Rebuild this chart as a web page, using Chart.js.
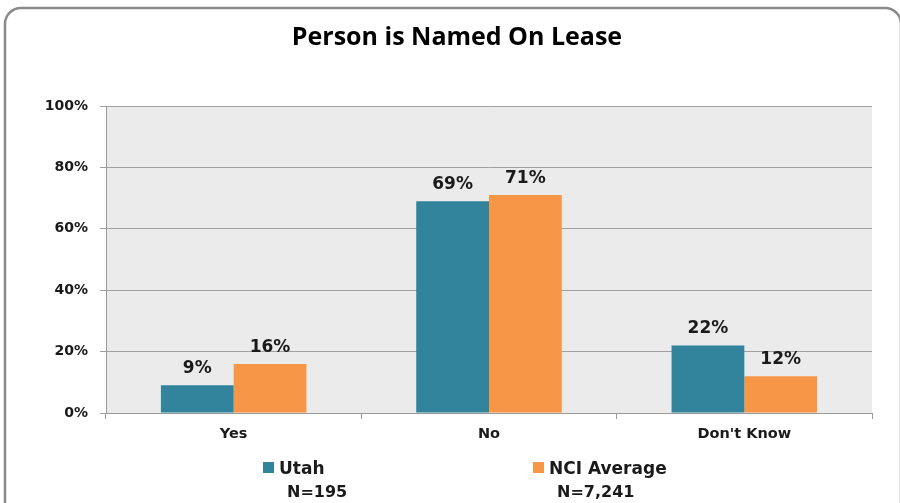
<!DOCTYPE html>
<html><head><meta charset="utf-8">
<script src="https://cdn.jsdelivr.net/npm/chart.js@4/dist/chart.umd.min.js"></script>
<style>html,body{margin:0;padding:0;background:#fff;}#wrap{position:relative;width:900px;height:503px;}</style>
</head><body><div id="wrap"><canvas id="c" width="900" height="503"></canvas></div>
<script>
const categories = ["Yes", "No", "Don't Know"];
const utahValues = [9, 69, 22];
const nciValues = [16, 71, 12];
const seriesNames = ["Utah", "NCI Average"];
const seriesN = ["N=195", "N=7,241"];
const yTicks = [0, 20, 40, 60, 80, 100];
const titleText = "Person is Named On Lease";
const colors = ["#31849b", "#f79646"];

const decor = {
  id: 'decor',
  beforeDraw(chart) {
    const ctx = chart.ctx, a = chart.chartArea;
    ctx.save();
    ctx.fillStyle = '#fff';
    ctx.fillRect(0, 0, chart.width, chart.height);
    ctx.strokeStyle = '#8a8a8a';
    ctx.lineWidth = 2.5;
    ctx.beginPath();
    ctx.roundRect(5, 8, 896, 510, 16);
    ctx.stroke();
    ctx.fillStyle = '#ebebeb';
    ctx.fillRect(a.left, a.top, a.right - a.left, a.bottom - a.top);
    ctx.fillStyle = '#000';
    ctx.font = 'bold 25px "Open Sans", Lato, sans-serif';
    ctx.textAlign = 'center';
    ctx.textBaseline = 'alphabetic';
    ctx.fillText(titleText, 457, 45);
    ctx.restore();
  },
  afterDatasetsDraw(chart) {
    const ctx = chart.ctx;
    ctx.save();
    ctx.fillStyle = '#1a1a1a';
    ctx.font = 'bold 17px "DejaVu Sans", Verdana, sans-serif';
    ctx.textAlign = 'center';
    ctx.textBaseline = 'alphabetic';
    chart.data.datasets.forEach((ds, i) => {
      chart.getDatasetMeta(i).data.forEach((bar, j) => {
        ctx.fillText(ds.data[j] + '%', bar.x, bar.y - 12);
      });
    });
    const lx = [263, 533];
    const tx = [287, 557];
    ctx.textAlign = 'left';
    for (let i = 0; i < 2; i++) {
      ctx.fillStyle = colors[i];
      ctx.fillRect(lx[i], 462, 11, 11);
      ctx.fillStyle = '#1a1a1a';
      ctx.font = 'bold 17px "DejaVu Sans", Verdana, sans-serif';
      ctx.fillText(seriesNames[i], lx[i] + 16, 474);
      ctx.font = 'bold 16px "DejaVu Sans", Verdana, sans-serif';
      ctx.fillText(seriesN[i], tx[i], 497);
    }
    ctx.restore();
  }
};

new Chart(document.getElementById('c'), {
  type: 'bar',
  data: {
    labels: categories,
    datasets: [
      { label: seriesNames[0], data: utahValues, backgroundColor: colors[0] },
      { label: seriesNames[1], data: nciValues, backgroundColor: colors[1] }
    ]
  },
  options: {
    responsive: false,
    animation: false,
    devicePixelRatio: 1,
    layout: { padding: { top: 106, right: 28, left: 0, bottom: 0 } },
    plugins: { legend: { display: false }, tooltip: { enabled: false }, title: { display: false } },
    datasets: { bar: { barPercentage: 1.0, categoryPercentage: 0.57 } },
    scales: {
      x: {
        afterFit(s) { s.height = 90; },
        grid: { display: true, drawOnChartArea: false, offset: true, color: '#9a9a9a', tickLength: 6 },
        border: { color: '#9a9a9a', width: 1 },
        ticks: { color: '#1a1a1a', font: { family: '"DejaVu Sans", Verdana, sans-serif', size: 14.5, weight: 'bold' }, padding: 7 }
      },
      y: {
        min: 0, max: 100,
        afterFit(s) { s.width = 106; },
        afterBuildTicks(s) { s.ticks = yTicks.map(v => ({ value: v })); },
        grid: { color: '#a0a0a0', tickLength: 6, lineWidth: 1 },
        border: { color: '#9a9a9a', width: 1 },
        ticks: { color: '#1a1a1a', font: { family: '"DejaVu Sans", Verdana, sans-serif', size: 14, weight: 'bold' }, padding: 12, callback: v => v + '%' }
      }
    }
  },
  plugins: [decor]
});
</script></body></html>
